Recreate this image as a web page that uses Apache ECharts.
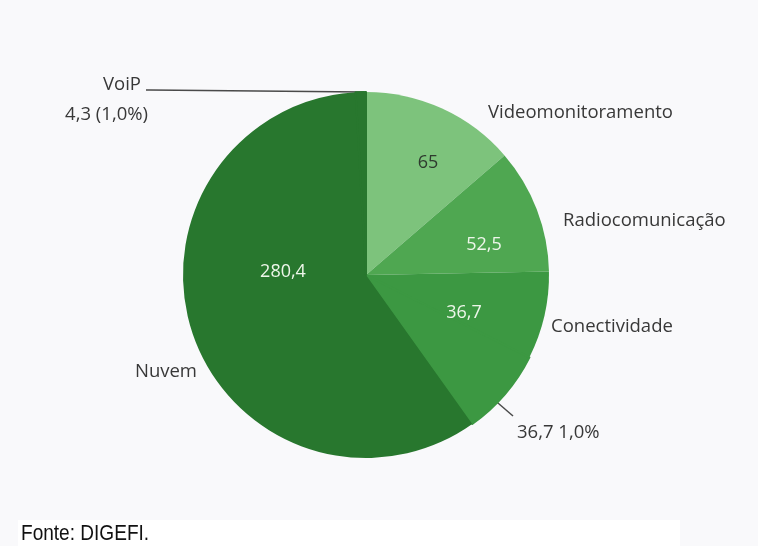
<!DOCTYPE html>
<html>
<head>
<meta charset="utf-8">
<script src="https://cdn.jsdelivr.net/npm/echarts@6/dist/echarts.min.js"></script>
<style>
  html, body { margin: 0; padding: 0; background: #f9f9fb; }
  #chart { width: 758px; height: 546px; }
</style>
</head>
<body>
<div id="chart"></div>
<script>
// slices, clockwise from 12 o'clock
var categories = ['Videomonitoramento', 'Radiocomunicação', 'Conectividade', 'Conectividade (b)', 'Nuvem', 'VoiP'];
var values = [65, 52.5, 36.7, 36.7, 280.4, 4.3];
var innerLabels = ['65', '52,5', '36,7', '', '280,4', ''];
var outerLabels = ['Videomonitoramento', 'Radiocomunicação', 'Conectividade', '36,7 1,0%', 'Nuvem', '{v|VoiP}\n4,3 (1,0%)'];
var colors = ['#7dc37c', '#4fa751', '#3c9842', '#3c9842', '#28772e', '#28772e'];
var innerColors = ['#2e3a2e', '#eef6ea', '#eef6ea', '#eef6ea', '#eef6ea', '#eef6ea'];

// where the texts sit
var innerPos = [[428, 163], [484, 245], [464, 313], [0, 0], [283, 272], [0, 0]];
var outerPos = [
  {x: 488, y: 113, align: 'left'},
  {x: 563, y: 221, align: 'left'},
  {x: 551, y: 327, align: 'left'},
  {x: 517, y: 433, align: 'left'},
  {x: 197, y: 372, align: 'right'},
  {x: 148, y: 100, align: 'right'}
];

var font = '"Open Sans", "DejaVu Sans", sans-serif';

var chart = echarts.init(document.getElementById('chart'));

// same-colour neighbours get a border in their own colour to hide the seam
var data = categories.map(function (c, i) {
  var seam = (i === 3 || i === 5);
  return {
    name: c,
    value: values[i],
    itemStyle: { color: colors[i], borderColor: colors[i], borderWidth: seam ? 2 : 0, borderJoin: 'round' }
  };
});

chart.setOption({
  backgroundColor: '#f9f9fb',
  animation: false,
  graphic: [
    { type: 'rect', shape: { x: 18, y: 520, width: 662, height: 26 }, style: { fill: '#ffffff' }, z: -1 },
    { type: 'text', x: 21, y: 523, scaleX: 0.866, style: { text: 'Fonte: DIGEFI.', fill: '#111', font: '22px "Liberation Sans", sans-serif' } }
  ],
  series: [
    {
      type: 'pie',
      center: [366, 275],
      radius: 183,
      startAngle: 90,
      clockwise: true,
      silent: true,
      label: {
        show: true,
        position: 'inside',
        fontFamily: font,
        fontSize: 18,
        formatter: function (p) { return innerLabels[p.dataIndex]; },
        color: '#fff'
      },
      labelLine: { show: false },
      labelLayout: function (p) {
        var pos = innerPos[p.dataIndex];
        return { x: pos[0], y: pos[1], align: 'center', verticalAlign: 'middle' };
      },
      data: data.map(function (d, i) {
        return Object.assign({}, d, { label: { color: innerColors[i] } });
      })
    },
    {
      type: 'pie',
      center: [366, 275],
      radius: 183,
      startAngle: 90,
      clockwise: true,
      silent: true,
      itemStyle: { color: 'rgba(0,0,0,0)', borderWidth: 0 },
      label: {
        show: true,
        position: 'outside',
        overflow: 'none',
        fontFamily: font,
        fontSize: 18.5,
        color: '#383838',
        lineHeight: 30,
        formatter: function (p) { return outerLabels[p.dataIndex]; },
        rich: {
          v: { fontFamily: font, fontSize: 18.5, color: '#383838', lineHeight: 30, padding: [0, 7, 0, 0] }
        }
      },
      labelLine: {
        show: true,
        lineStyle: { color: '#4a4a4a', width: 1.5 }
      },
      labelLayout: function (p) {
        var o = outerPos[p.dataIndex];
        var res = { x: o.x, y: o.y, align: o.align, verticalAlign: 'middle' };
        if (p.dataIndex === 3) {
          res.labelLinePoints = [[491, 397], [513, 416], [513, 416]];
        } else if (p.dataIndex === 5) {
          res.labelLinePoints = [[364, 92], [150, 90], [146, 90]];
        } else {
          res.labelLinePoints = [[0, 0], [0, 0], [0, 0]];
        }
        return res;
      },
      data: data.map(function (d) {
        return { name: d.name, value: d.value, itemStyle: { color: 'rgba(0,0,0,0)', borderWidth: 0 } };
      })
    }
  ]
});
</script>
</body>
</html>
